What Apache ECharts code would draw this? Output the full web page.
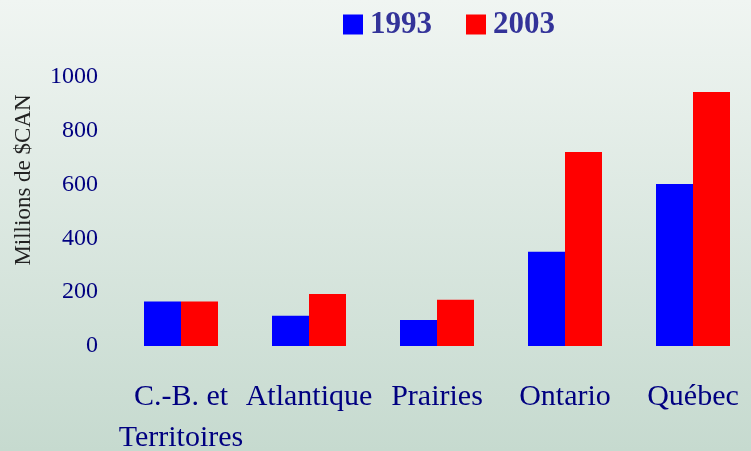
<!DOCTYPE html>
<html>
<head>
<meta charset="utf-8">
<script src="https://cdn.jsdelivr.net/npm/echarts@6/dist/echarts.min.js"></script>
<style>
  html, body { margin: 0; padding: 0; }
  #chart { width: 751px; height: 451px; }
</style>
</head>
<body>
<div id="chart"></div>
<script>
// données
const regions = ['C.-B. et\nTerritoires', 'Atlantique', 'Prairies', 'Ontario', 'Québec'];
const values1993 = [165, 112, 97, 350, 602];
const values2003 = [165, 193, 172, 721, 944];
const yTicks = { min: 0, max: 1000, interval: 200 };

const chart = echarts.init(document.getElementById('chart'));
const serif = '"Liberation Serif", "Times New Roman", serif';

chart.setOption({
  backgroundColor: {
    type: 'linear', x: 0, y: 0, x2: 0, y2: 1,
    colorStops: [
      { offset: 0, color: '#f0f5f2' },
      { offset: 1, color: '#c6dacf' }
    ]
  },
  animation: false,
  legend: {
    left: 338,
    top: 4,
    itemWidth: 20,
    itemHeight: 20,
    itemGap: 34,
    icon: 'rect',
    textStyle: {
      fontFamily: serif,
      fontSize: 31,
      fontWeight: 'bold',
      color: '#333399',
      padding: [0, 0, 0, 2]
    },
    data: ['1993', '2003']
  },
  grid: { left: 117, right: -6, top: 77, bottom: 105, outerBoundsMode: 'none', containLabel: false },
  xAxis: {
    type: 'category',
    data: regions,
    axisLine: { show: false },
    axisTick: { show: false },
    axisLabel: {
      interval: 0,
      margin: 31,
      fontFamily: serif,
      fontSize: 30,
      lineHeight: 41,
      color: '#000080'
    }
  },
  yAxis: {
    type: 'value',
    min: yTicks.min,
    max: yTicks.max,
    interval: yTicks.interval,
    splitLine: { show: false },
    axisLine: { show: false },
    axisTick: { show: false },
    axisLabel: {
      margin: 19,
      fontFamily: serif,
      fontSize: 24,
      color: '#000080',
      formatter: v => String(v)
    }
  },
  graphic: [{
    type: 'text',
    x: 24,
    y: 180,
    rotation: Math.PI / 2,
    style: {
      text: 'Millions de $CAN',
      fontFamily: serif,
      fontSize: 23,
      fill: '#222222',
      align: 'center',
      verticalAlign: 'middle'
    }
  }],
  series: [
    {
      name: '1993',
      type: 'bar',
      data: values1993,
      barWidth: 37,
      barGap: '0%',
      itemStyle: { color: '#0000ff' }
    },
    {
      name: '2003',
      type: 'bar',
      data: values2003,
      barWidth: 37,
      itemStyle: { color: '#ff0000' }
    }
  ]
});
</script>
</body>
</html>
